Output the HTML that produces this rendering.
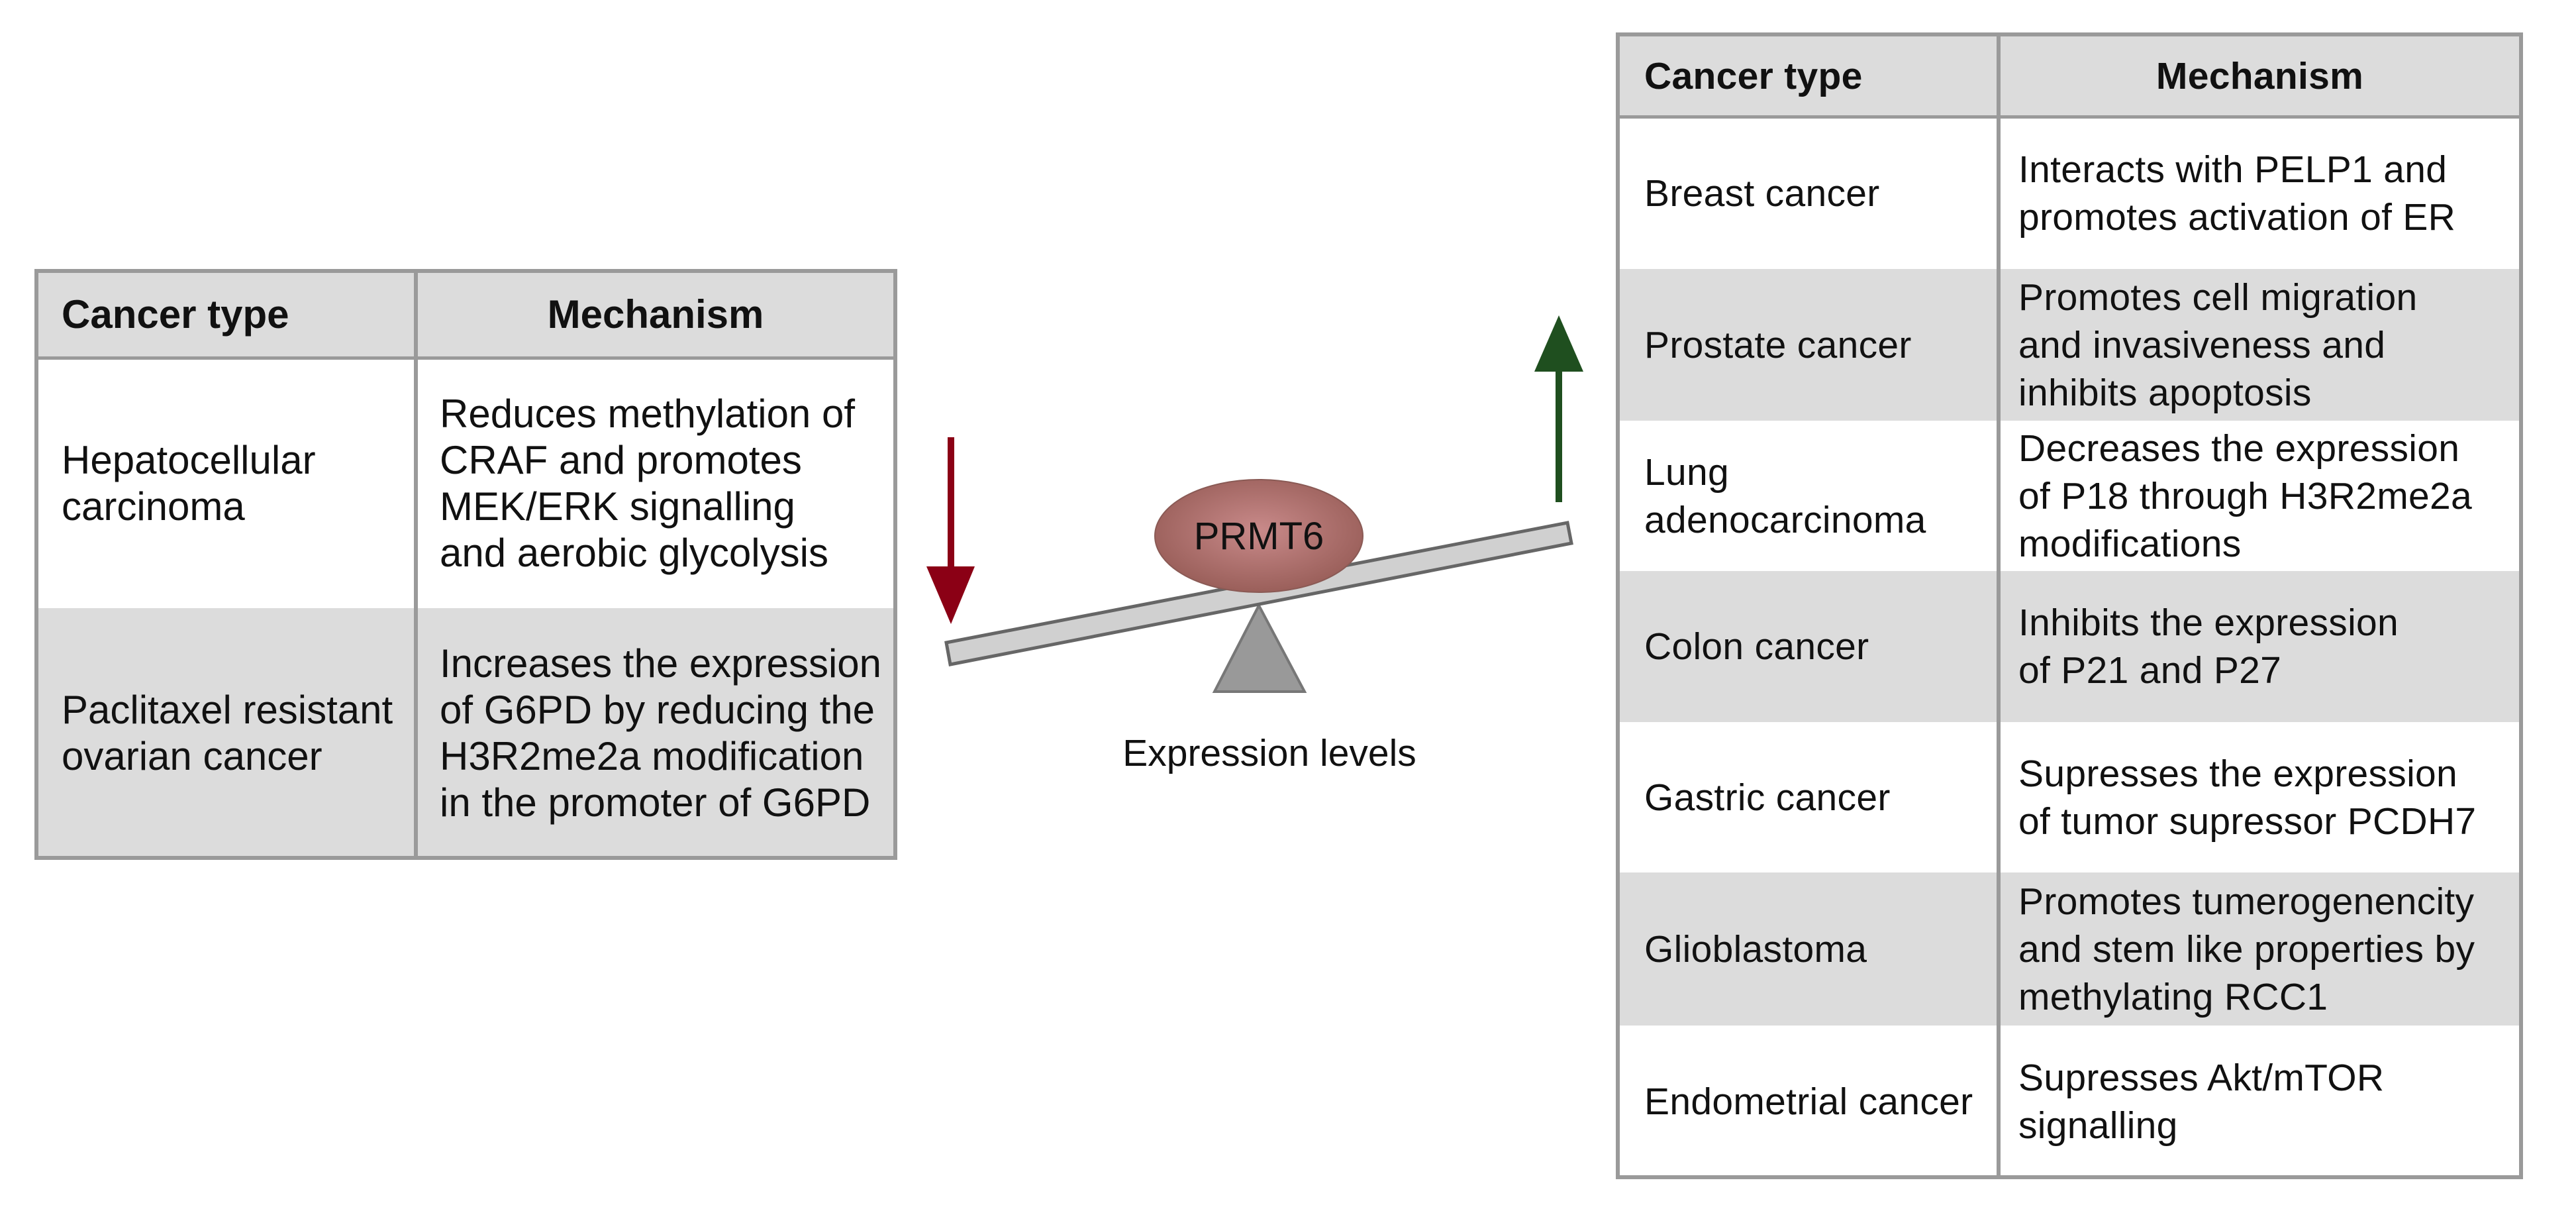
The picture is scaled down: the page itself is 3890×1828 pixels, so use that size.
<!DOCTYPE html>
<html><head><meta charset="utf-8"><style>
html,body{margin:0;padding:0;background:#fff;}
body{width:3890px;height:1828px;position:relative;overflow:hidden;font-family:"Liberation Sans",Arial,sans-serif;color:#111;}
.c{position:absolute;box-sizing:border-box;display:flex;align-items:center;padding-left:40px;}
.g{background:#dcdcdc;}
.b{font-weight:bold;}
.L{font-size:60px;line-height:70px;letter-spacing:0px;}
.R{font-size:57px;line-height:72px;letter-spacing:0.3px;}
.ln{position:absolute;background:#9a9a9a;}
</style></head><body>

<!-- Left table -->
<div class="c g L b" style="left:55px;top:409px;width:573px;height:132px;padding-left:38px">Cancer type</div>
<div class="c g L b" style="left:628px;top:409px;width:724px;height:132px;justify-content:center;padding-left:0">Mechanism</div>
<div class="c L" style="left:55px;top:541px;width:573px;height:377px;padding-left:38px">Hepatocellular<br>carcinoma</div>
<div class="c L" style="left:628px;top:541px;width:724px;height:377px;padding-left:36px">Reduces methylation of<br>CRAF and promotes<br>MEK/ERK signalling<br>and aerobic glycolysis</div>
<div class="c g L" style="left:55px;top:918px;width:573px;height:377px;padding-left:38px">Paclitaxel resistant<br>ovarian cancer</div>
<div class="c g L" style="left:628px;top:918px;width:724px;height:377px;padding-left:36px">Increases the expression<br>of G6PD by reducing the<br>H3R2me2a modification<br>in the promoter of G6PD</div>
<div class="ln" style="left:52px;top:406px;width:1303px;height:6px"></div>
<div class="ln" style="left:52px;top:1292px;width:1303px;height:6px"></div>
<div class="ln" style="left:52px;top:538px;width:1303px;height:5px"></div>
<div class="ln" style="left:52px;top:406px;width:6px;height:892px"></div>
<div class="ln" style="left:1349px;top:406px;width:6px;height:892px"></div>
<div class="ln" style="left:625px;top:406px;width:6px;height:892px"></div>

<!-- Right table -->
<div class="c g R b" style="left:2443px;top:52px;width:575px;height:125px;">Cancer type</div>
<div class="c g R b" style="left:3018px;top:52px;width:789px;height:125px;justify-content:center;padding-left:0">Mechanism</div>

<div class="c R" style="left:2443px;top:177px;width:575px;height:229px">Breast cancer</div>
<div class="c R" style="left:3018px;top:177px;width:789px;height:229px;padding-left:30px">Interacts with PELP1 and<br>promotes activation of ER</div>

<div class="c g R" style="left:2443px;top:406px;width:575px;height:229px">Prostate cancer</div>
<div class="c g R" style="left:3018px;top:406px;width:789px;height:229px;padding-left:30px">Promotes cell migration<br>and invasiveness and<br>inhibits apoptosis</div>

<div class="c R" style="left:2443px;top:635px;width:575px;height:227px">Lung<br>adenocarcinoma</div>
<div class="c R" style="left:3018px;top:635px;width:789px;height:227px;padding-left:30px">Decreases the expression<br>of P18 through H3R2me2a<br>modifications</div>

<div class="c g R" style="left:2443px;top:862px;width:575px;height:228px">Colon cancer</div>
<div class="c g R" style="left:3018px;top:862px;width:789px;height:228px;padding-left:30px">Inhibits the expression<br>of P21 and P27</div>

<div class="c R" style="left:2443px;top:1090px;width:575px;height:227px">Gastric cancer</div>
<div class="c R" style="left:3018px;top:1090px;width:789px;height:227px;padding-left:30px">Supresses the expression<br>of tumor supressor PCDH7</div>

<div class="c g R" style="left:2443px;top:1317px;width:575px;height:231px">Glioblastoma</div>
<div class="c g R" style="left:3018px;top:1317px;width:789px;height:231px;padding-left:30px">Promotes tumerogenencity<br>and stem like properties by<br>methylating RCC1</div>

<div class="c R" style="left:2443px;top:1548px;width:575px;height:229px">Endometrial cancer</div>
<div class="c R" style="left:3018px;top:1548px;width:789px;height:229px;padding-left:30px">Supresses Akt/mTOR<br>signalling</div>

<div class="ln" style="left:2440px;top:49px;width:1370px;height:6px"></div>
<div class="ln" style="left:2440px;top:174px;width:1370px;height:5px"></div>
<div class="ln" style="left:2440px;top:1774px;width:1370px;height:6px"></div>
<div class="ln" style="left:2440px;top:49px;width:6px;height:1731px"></div>
<div class="ln" style="left:3804px;top:49px;width:6px;height:1731px"></div>
<div class="ln" style="left:3015px;top:49px;width:6px;height:1731px"></div>

<!-- Seesaw -->
<svg style="position:absolute;left:0;top:0" width="3890" height="1828">
<defs>
<radialGradient id="eg" cx="50%" cy="45%" r="55%">
<stop offset="0" stop-color="#c98a8a"/><stop offset="1" stop-color="#9a5f5a"/>
</radialGradient>
</defs>
<polygon points="1834,1044 1901,914 1970,1044" fill="#999" stroke="#777" stroke-width="4"/>
<polygon points="1429,970 2367,789 2373,820 1435,1003" fill="#d0d0d0" stroke="#666" stroke-width="5"/>
<ellipse cx="1901" cy="809" rx="157" ry="85" fill="url(#eg)" stroke="#8a5a55" stroke-width="2"/>
<text x="1901" y="829" font-size="58" text-anchor="middle" font-family="Liberation Sans, sans-serif" fill="#111">PRMT6</text>
<rect x="1431" y="660" width="10" height="200" fill="#8b0015"/>
<polygon points="1399,855 1472,855 1436,942" fill="#8b0015"/>
<rect x="2349" y="555" width="10" height="203" fill="#1f4f1f"/>
<polygon points="2317,561 2391,561 2354,476" fill="#1f4f1f"/>
<text x="1917" y="1156" font-size="57" text-anchor="middle" font-family="Liberation Sans, sans-serif" fill="#111">Expression levels</text>
</svg>
</body></html>
